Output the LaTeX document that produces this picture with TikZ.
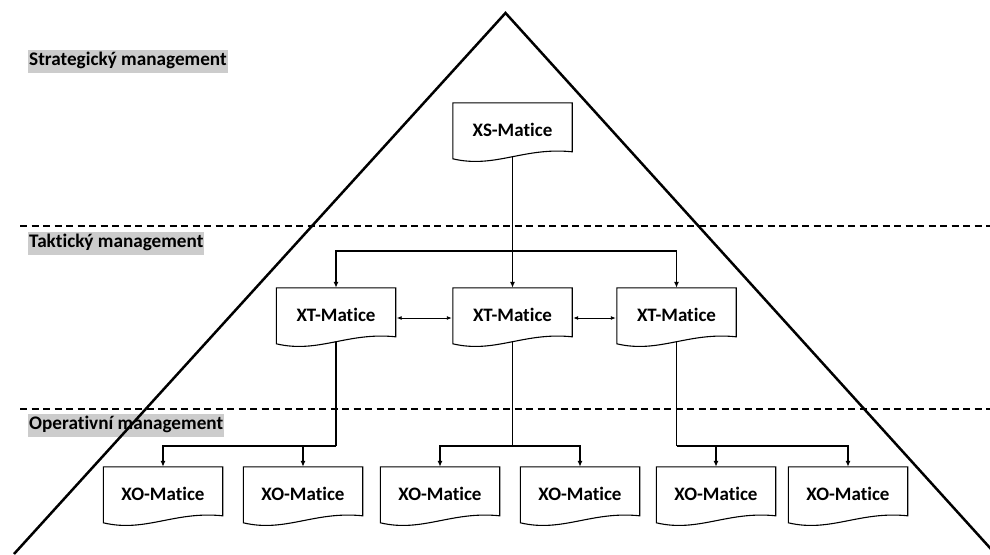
\documentclass[tikz,border=0pt]{standalone}
\usepackage{fontspec}
\setmainfont{Carlito}[Ligatures=NoCommon]
\usetikzlibrary{arrows.meta,calc}
\begin{document}
\begin{tikzpicture}[x=1pt,y=-1pt,
  doc/.style={minimum width=119pt, minimum height=54pt, inner sep=0pt,
    font=\fontsize{19}{21}\selectfont\bfseries},
  docline/.style={line width=1.1pt},
  lvl/.style={fill=gray!40, inner xsep=1pt, inner ysep=2.5pt, text height=13.5pt, text depth=4.5pt,
    anchor=west, font=\fontsize{19.2}{21}\selectfont\bfseries},
  conn/.style={line width=1.3pt},
  arr/.style={line width=1.3pt, -{Latex[length=6pt,width=5pt]}},
  dbl/.style={line width=0.9pt, {Latex[length=5pt,width=4pt]}-{Latex[length=5pt,width=4pt]}, shorten <=1pt, shorten >=1pt},
  sep/.style={line width=1.4pt, dash pattern=on 7pt off 4.5pt},
  tri/.style={line width=2.5pt, line join=miter}]
\useasboundingbox (0,0) rectangle (990,554);

% level labels
\node[lvl] (ls) at (28,61) {Strategický management};
\node[lvl] (lt) at (28,243) {Taktický management};
\node[lvl] (lo) at (28,425) {Operativní management};

% separators
\coordinate (s1a) at (20,226); \coordinate (s1b) at (990,226);
\coordinate (s2a) at (20,409); \coordinate (s2b) at (990,409);
\draw[sep] (s1a) -- (s1b);
\draw[sep] (s2a) -- (s2b);

% pyramid
\coordinate (tl) at (14,554); \coordinate (tp) at (505.5,13); \coordinate (tr) at (995.5,554);
\draw[tri] (tl) -- (tp) -- (tr);

% documents
\node[doc] (XS) at (512.5,130) {XS-Matice};
\node[doc] (XT1) at (336,315) {XT-Matice};
\node[doc] (XT2) at (512.5,315) {XT-Matice};
\node[doc] (XT3) at (676.5,315) {XT-Matice};
\node[doc] (XO1) at (163,494) {XO-Matice};
\node[doc] (XO2) at (303,494) {XO-Matice};
\node[doc] (XO3) at (440,494) {XO-Matice};
\node[doc] (XO4) at (580,494) {XO-Matice};
\node[doc] (XO5) at (716,494) {XO-Matice};
\node[doc] (XO6) at (848,494) {XO-Matice};

\foreach \n in {XS,XT1,XT2,XT3,XO1,XO2,XO3,XO4,XO5,XO6}
  \draw[docline] (\n.north west) -- (\n.north east) -- ($(\n.north east)+(0,49)$)
    .. controls ($(\n.north west)+(71,44)$) and ($(\n.north west)+(42,66)$) ..
    ($(\n.north west)+(0,56)$) -- cycle;

% strategic to tactical
\coordinate (h0) at (XS.south |- 0,251);
\draw[arr] (XS.south) -- (XT2.north);
\draw[arr] (h0) -| (XT1.north);
\draw[arr] (h0) -| (XT3.north);

% tactical links
\draw[dbl] ($(XT1.east)+(0,3)$) -- ($(XT2.west)+(0,3)$);
\draw[dbl] ($(XT2.east)+(0,3)$) -- ($(XT3.west)+(0,3)$);

% tactical to operative
\coordinate (b1) at (XT1.south |- 0,446);
\coordinate (b2) at (XT2.south |- 0,446);
\coordinate (b3) at (XT3.south |- 0,446);
\draw[conn] (XT1.south) -- (b1);
\draw[conn] (XT2.south) -- (b2);
\draw[conn] (XT3.south) -- (b3);
\draw[arr] (b1) -| (XO1.north);
\draw[arr] (b1) -| (XO2.north);
\draw[arr] (b2) -| (XO3.north);
\draw[arr] (b2) -| (XO4.north);
\draw[arr] (b3) -| (XO5.north);
\draw[arr] (b3) -| (XO6.north);
\end{tikzpicture}
\end{document}
